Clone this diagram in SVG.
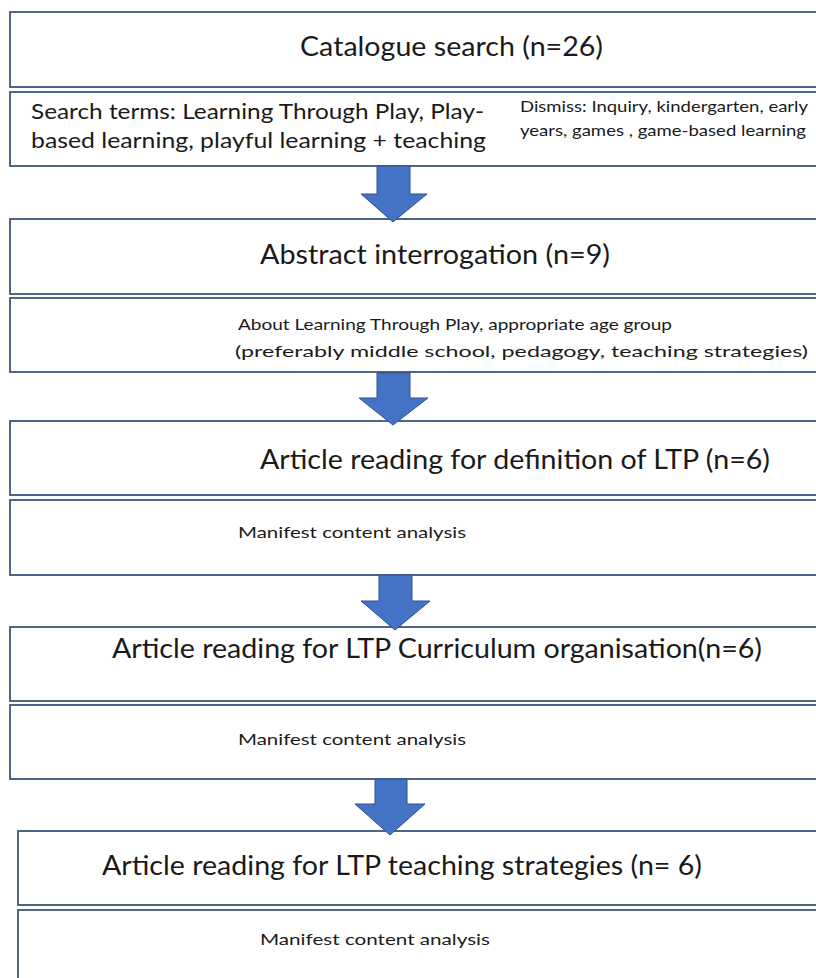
<svg xmlns="http://www.w3.org/2000/svg" width="816" height="978" viewBox="0 0 816 978">
  <defs>
    <style>
      .box { fill: #ffffff; stroke: #3e5479; stroke-width: 1.8; }
      .arrow { fill: #4472c4; stroke: #2f528f; stroke-width: 1; }
      .t { font-family: Lato, "Open Sans", "Liberation Sans", sans-serif; fill: #1a1a1a; }
      .big { font-size: 27px; }
      .mid { font-size: 21.5px; }
      .small { font-size: 16px; }
      .tiny { font-size: 15px; }
    </style>
  </defs>
  <rect width="816" height="978" fill="#ffffff"/>

  <g id="catalogue-search">
    <rect class="box" x="10" y="12" width="820" height="75"/>
    <text class="t big" x="300" y="56" textLength="303" lengthAdjust="spacingAndGlyphs">Catalogue search (n=26)</text>
  </g>

  <g id="search-terms">
    <rect class="box" x="10" y="92" width="820" height="74"/>
    <text class="t mid" x="31" y="119" textLength="453" lengthAdjust="spacingAndGlyphs">Search terms: Learning Through Play, Play-</text>
    <text class="t mid" x="31" y="148" textLength="455" lengthAdjust="spacingAndGlyphs">based learning, playful learning + teaching</text>
    <text class="t tiny" x="520" y="112" textLength="288" lengthAdjust="spacingAndGlyphs">Dismiss: Inquiry, kindergarten, early</text>
    <text class="t tiny" x="520" y="136" textLength="286" lengthAdjust="spacingAndGlyphs">years, games , game-based learning</text>
  </g>

  <g id="abstract-interrogation">
    <rect class="box" x="10" y="219" width="820" height="75"/>
    <text class="t big" x="260" y="264" textLength="350" lengthAdjust="spacingAndGlyphs">Abstract interrogation (n=9)</text>
  </g>

  <g id="abstract-criteria">
    <rect class="box" x="10" y="298" width="820" height="74"/>
    <text class="t small" x="238" y="330" textLength="434" lengthAdjust="spacingAndGlyphs">About Learning Through Play, appropriate age group</text>
    <text class="t small" x="235" y="357" textLength="573" lengthAdjust="spacingAndGlyphs">(preferably middle school, pedagogy, teaching strategies)</text>
  </g>

  <g id="definition-reading">
    <rect class="box" x="10" y="421" width="820" height="74"/>
    <text class="t big" x="260" y="469" textLength="510" lengthAdjust="spacingAndGlyphs">Article reading for definition of LTP (n=6)</text>
  </g>

  <g id="definition-analysis">
    <rect class="box" x="10" y="500" width="820" height="75"/>
    <text class="t small" x="238" y="538" textLength="228" lengthAdjust="spacingAndGlyphs">Manifest content analysis</text>
  </g>

  <g id="curriculum-reading">
    <rect class="box" x="10" y="627" width="820" height="74"/>
    <text class="t big" x="112" y="658" textLength="650" lengthAdjust="spacingAndGlyphs">Article reading for LTP Curriculum organisation(n=6)</text>
  </g>

  <g id="curriculum-analysis">
    <rect class="box" x="10" y="705" width="820" height="74"/>
    <text class="t small" x="238" y="745" textLength="228" lengthAdjust="spacingAndGlyphs">Manifest content analysis</text>
  </g>

  <g id="strategies-reading">
    <rect class="box" x="18" y="831" width="812" height="74"/>
    <text class="t big" x="102" y="875" textLength="600" lengthAdjust="spacingAndGlyphs">Article reading for LTP teaching strategies (n= 6)</text>
  </g>

  <g id="strategies-analysis">
    <rect class="box" x="18" y="910" width="812" height="80"/>
    <text class="t small" x="260" y="945" textLength="230" lengthAdjust="spacingAndGlyphs">Manifest content analysis</text>
  </g>

  <g id="connectors">
    <polygon class="arrow" points="377,166 410,166 410,194 427,194 393,222 361,194 377,194"/>
    <polygon class="arrow" points="377,373 410,373 410,398 428,398 393,425 359,398 377,398"/>
    <polygon class="arrow" points="379,575 412,575 412,601 430,601 395,630 361,601 379,601"/>
    <polygon class="arrow" points="375,779 407,779 407,804 425,804 390,835 355,804 375,804"/>
  </g>
</svg>
